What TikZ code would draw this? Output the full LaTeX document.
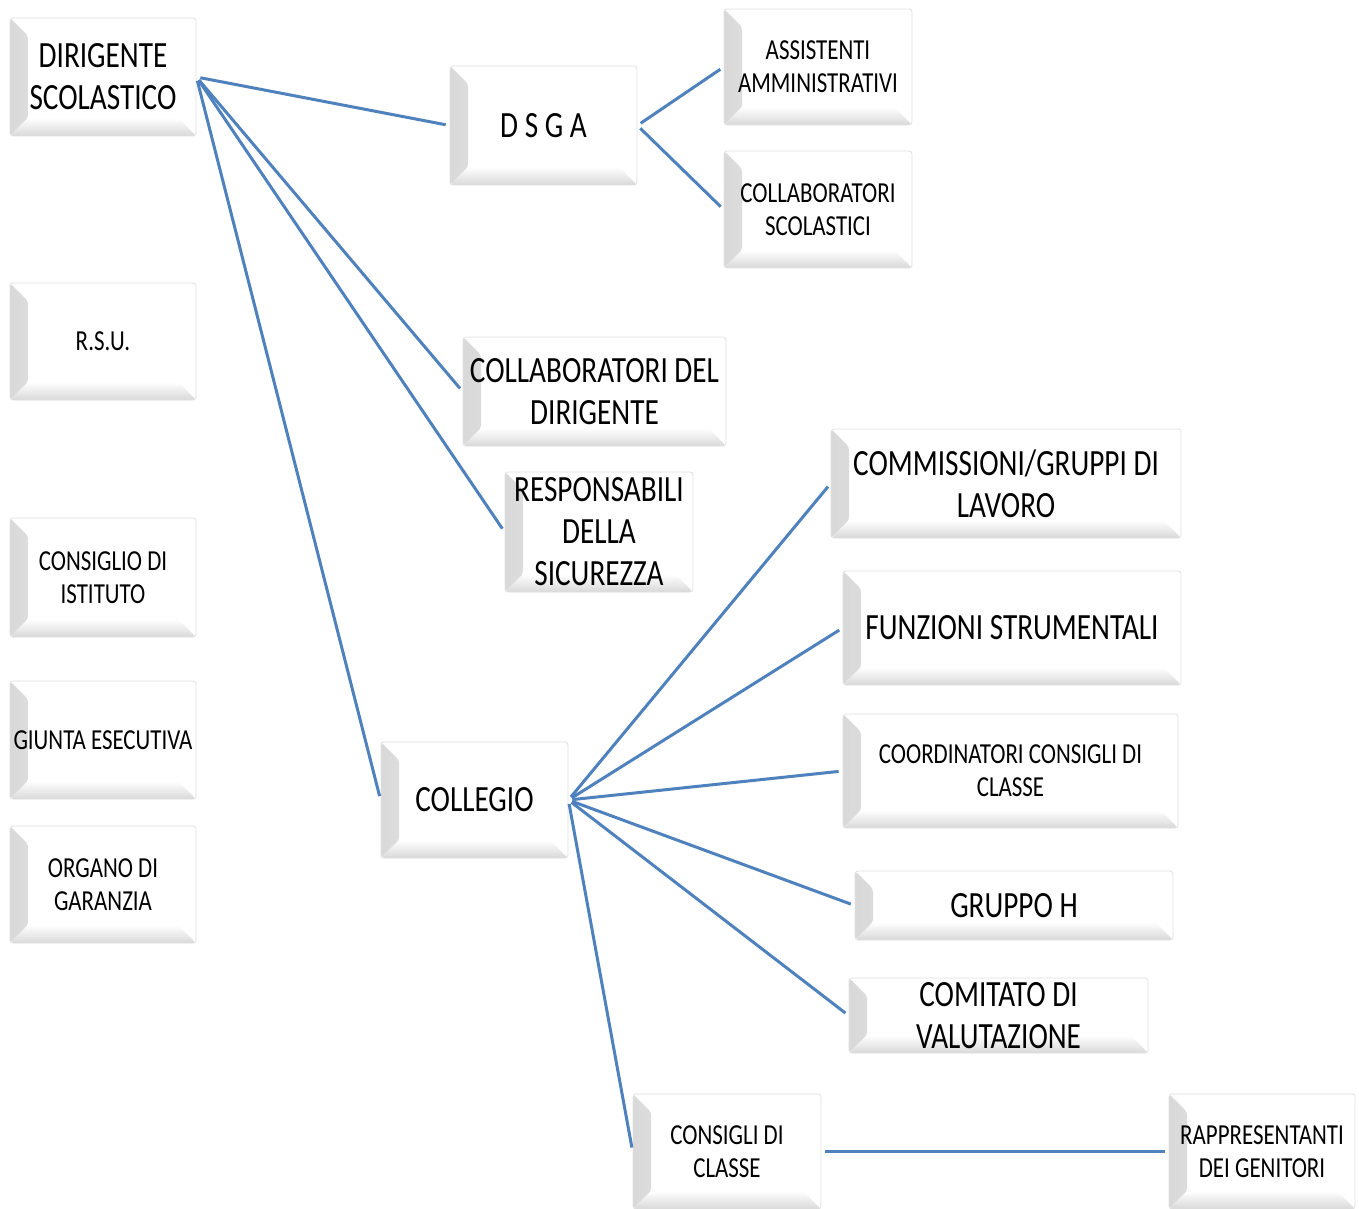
\documentclass[tikz,border=0pt]{standalone}
\usepackage{fontspec}
\setmainfont{Carlito}[FakeStretch=0.79]
\usepackage{tikz}
\usetikzlibrary{positioning}
\definecolor{linkblue}{RGB}{79,129,189}

\tikzset{
  bevelbox/.style={draw=gray!25, line width=0.4pt, rounded corners=1.5pt, fill=white,
    align=center, inner sep=0pt, text=black,
    path picture={
      \shade[left color=gray!30, right color=white]
        (path picture bounding box.north west) -- ([xshift=9pt,yshift=-9pt]path picture bounding box.north west)
        -- ([xshift=9pt,yshift=9pt]path picture bounding box.south west) -- (path picture bounding box.south west) -- cycle;
      \shade[bottom color=gray!30, top color=white]
        (path picture bounding box.south west) -- ([xshift=9pt,yshift=9pt]path picture bounding box.south west)
        -- ([xshift=-9pt,yshift=9pt]path picture bounding box.south east) -- (path picture bounding box.south east) -- cycle;
    }},
  bigtext/.style={font=\fontsize{18.5}{21}\selectfont},
  smalltext/.style={font=\fontsize{14.5}{16.5}\selectfont},
  link/.style={draw=linkblue, line width=1.5pt, shorten <=2pt, shorten >=2pt}
}

\begin{document}
\begin{tikzpicture}[x=0.5pt,y=-0.5pt]

\useasboundingbox (0,0) rectangle (1359,1209);

% left column
{
\node[bevelbox,bigtext,minimum width=93pt,minimum height=59pt] (dir) at (103,77) {DIRIGENTE\\SCOLASTICO};
\node[bevelbox,smalltext,minimum width=93pt,minimum height=58.5pt] (rsu) at (103,341.5) {R.S.U.};
\node[bevelbox,smalltext,minimum width=93pt,minimum height=59.5pt] (consist) at (103,577.5) {CONSIGLIO DI\\ISTITUTO};
\node[bevelbox,smalltext,minimum width=93pt,minimum height=59pt] (giunta) at (103,740) {GIUNTA ESECUTIVA};
\node[bevelbox,smalltext,minimum width=93pt,minimum height=58.5pt] (organo) at (103,884.5) {ORGANO DI\\GARANZIA};
}

% middle column
{
\node[bevelbox,bigtext,minimum width=93.5pt,minimum height=59.5pt] (dsga) at (543.5,125.5) {D S G A};
\node[bevelbox,bigtext,minimum width=131.5pt,minimum height=54.5pt] (coldir) at (594.5,391.5) {COLLABORATORI DEL\\DIRIGENTE};
\node[bevelbox,bigtext,minimum width=94pt,minimum height=60pt] (resp) at (599,532) {RESPONSABILI\\DELLA\\SICUREZZA};
\node[bevelbox,bigtext,minimum width=93.5pt,minimum height=58pt] (collegio) at (474.5,800) {COLLEGIO};
\node[bevelbox,smalltext,minimum width=94pt,minimum height=57.5pt] (consclasse) at (727,1151.5) {CONSIGLI DI\\CLASSE};
}

% right column
{
\node[bevelbox,smalltext,minimum width=94pt,minimum height=58pt] (assist) at (818,67) {ASSISTENTI\\AMMINISTRATIVI};
\node[bevelbox,smalltext,minimum width=94pt,minimum height=58.5pt] (colscol) at (818,209.5) {COLLABORATORI\\SCOLASTICI};
\node[bevelbox,bigtext,minimum width=175pt,minimum height=54.5pt] (comm) at (1006,483.5) {COMMISSIONI/GRUPPI DI\\LAVORO};
\node[bevelbox,bigtext,minimum width=169pt,minimum height=57pt] (funz) at (1012,628) {FUNZIONI STRUMENTALI};
\node[bevelbox,smalltext,minimum width=167.5pt,minimum height=57pt] (coord) at (1010.5,771) {COORDINATORI CONSIGLI DI\\CLASSE};
\node[bevelbox,bigtext,minimum width=159pt,minimum height=34.5pt] (gruppoh) at (1014,905.5) {GRUPPO H};
\node[bevelbox,bigtext,minimum width=149.5pt,minimum height=37.5pt] (comitato) at (998.5,1015.5) {COMITATO DI\\VALUTAZIONE};
\node[bevelbox,smalltext,minimum width=93pt,minimum height=57.5pt] (rappr) at (1262,1151.5) {RAPPRESENTANTI\\DEI GENITORI};
}

% links
{
\draw[link] (dir.east) -- (dsga.west);
\draw[link] (dir.east) -- (coldir.west);
\draw[link] (dir.east) -- (resp.west);
\draw[link] (dir.east) -- (collegio.west);

\draw[link] (dsga.east) -- (assist.west);
\draw[link] (dsga.east) -- (colscol.west);

\draw[link] (collegio.east) -- (comm.west);
\draw[link] (collegio.east) -- (funz.west);
\draw[link] (collegio.east) -- (coord.west);
\draw[link] (collegio.east) -- (gruppoh.west);
\draw[link] (collegio.east) -- (comitato.west);
\draw[link] (collegio.east) -- (consclasse.west);

\draw[link] (consclasse.east) -- (rappr.west);
}

\end{tikzpicture}
\end{document}
